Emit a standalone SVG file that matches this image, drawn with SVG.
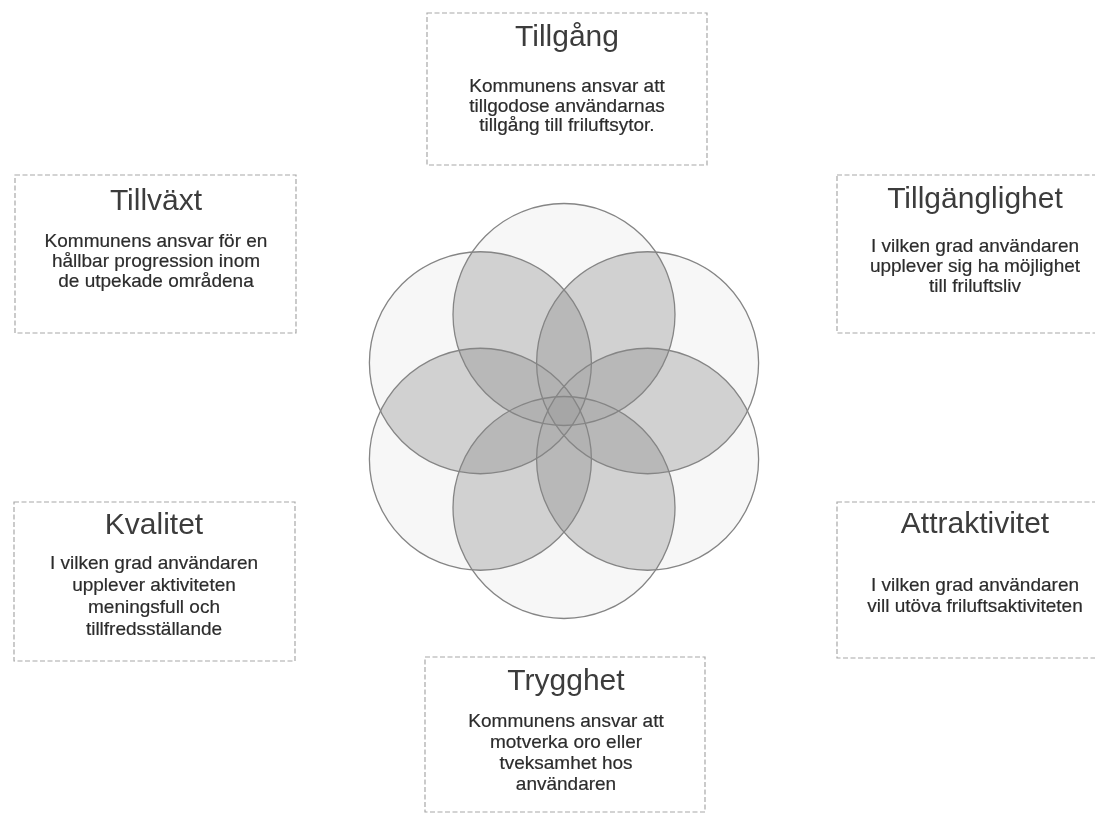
<svg xmlns="http://www.w3.org/2000/svg" xmlns:xlink="http://www.w3.org/1999/xlink" width="1095" height="813" viewBox="0 0 1095 813">
<style>
.box{fill:#ffffff;stroke:#a8a8a8;stroke-width:1.2;stroke-dasharray:5 2.5}
.title{font-family:"Liberation Sans",Arial,sans-serif;font-size:30px;fill:#3c3c3c;text-anchor:middle}
.body{font-family:"Liberation Sans",Arial,sans-serif;font-size:19px;fill:#2c2c2c;stroke:#2c2c2c;stroke-width:0.2;text-anchor:middle}
.ring{fill:none;stroke:#858585;stroke-width:1.3}
</style>
<defs>
<circle id="c0" cx="564" cy="314.5" r="111"/>
<circle id="c1" cx="647.6" cy="362.75" r="111"/>
<circle id="c2" cx="647.6" cy="459.25" r="111"/>
<circle id="c3" cx="564" cy="507.5" r="111"/>
<circle id="c4" cx="480.4" cy="459.25" r="111"/>
<circle id="c5" cx="480.4" cy="362.75" r="111"/>
<clipPath id="k0"><use xlink:href="#c0"/></clipPath>
<clipPath id="k1"><use xlink:href="#c1"/></clipPath>
<clipPath id="k2"><use xlink:href="#c2"/></clipPath>
<clipPath id="k3"><use xlink:href="#c3"/></clipPath>
<clipPath id="k4"><use xlink:href="#c4"/></clipPath>
</defs>
<rect x="0" y="0" width="1095" height="813" fill="#ffffff"/>

<g id="venn">
<g fill="#000" fill-opacity="0.03">
<use xlink:href="#c0"/><use xlink:href="#c1"/><use xlink:href="#c2"/>
<use xlink:href="#c3"/><use xlink:href="#c4"/><use xlink:href="#c5"/>
</g>
<g fill="#000" opacity="0.12">
<use xlink:href="#c1" clip-path="url(#k0)"/>
<use xlink:href="#c2" clip-path="url(#k0)"/>
<use xlink:href="#c3" clip-path="url(#k0)"/>
<use xlink:href="#c4" clip-path="url(#k0)"/>
<use xlink:href="#c5" clip-path="url(#k0)"/>
<use xlink:href="#c2" clip-path="url(#k1)"/>
<use xlink:href="#c3" clip-path="url(#k1)"/>
<use xlink:href="#c4" clip-path="url(#k1)"/>
<use xlink:href="#c5" clip-path="url(#k1)"/>
<use xlink:href="#c3" clip-path="url(#k2)"/>
<use xlink:href="#c4" clip-path="url(#k2)"/>
<use xlink:href="#c5" clip-path="url(#k2)"/>
<use xlink:href="#c4" clip-path="url(#k3)"/>
<use xlink:href="#c5" clip-path="url(#k3)"/>
<use xlink:href="#c5" clip-path="url(#k4)"/>
</g>
<g fill="#000" opacity="0.09">
<g clip-path="url(#k0)">
<use xlink:href="#c2" clip-path="url(#k1)"/>
<use xlink:href="#c3" clip-path="url(#k1)"/>
<use xlink:href="#c4" clip-path="url(#k1)"/>
<use xlink:href="#c5" clip-path="url(#k1)"/>
<use xlink:href="#c3" clip-path="url(#k2)"/>
<use xlink:href="#c4" clip-path="url(#k2)"/>
<use xlink:href="#c5" clip-path="url(#k2)"/>
<use xlink:href="#c4" clip-path="url(#k3)"/>
<use xlink:href="#c5" clip-path="url(#k3)"/>
<use xlink:href="#c5" clip-path="url(#k4)"/>
</g>
<g clip-path="url(#k1)">
<use xlink:href="#c3" clip-path="url(#k2)"/>
<use xlink:href="#c4" clip-path="url(#k2)"/>
<use xlink:href="#c5" clip-path="url(#k2)"/>
<use xlink:href="#c4" clip-path="url(#k3)"/>
<use xlink:href="#c5" clip-path="url(#k3)"/>
<use xlink:href="#c5" clip-path="url(#k4)"/>
</g>
<g clip-path="url(#k2)">
<use xlink:href="#c4" clip-path="url(#k3)"/>
<use xlink:href="#c5" clip-path="url(#k3)"/>
<use xlink:href="#c5" clip-path="url(#k4)"/>
</g>
<g clip-path="url(#k3)">
<use xlink:href="#c5" clip-path="url(#k4)"/>
</g>
</g>
<g class="ring">
<use xlink:href="#c0"/><use xlink:href="#c1"/><use xlink:href="#c2"/>
<use xlink:href="#c3"/><use xlink:href="#c4"/><use xlink:href="#c5"/>
</g>
</g>

<g id="tillgang">
<rect class="box" x="427" y="13" width="280" height="152"/>
<text class="title" x="567" y="46">Tillgång</text>
<text class="body" x="567" y="92">Kommunens ansvar att</text>
<text class="body" x="567" y="112">tillgodose användarnas</text>
<text class="body" x="567" y="131">tillgång till friluftsytor.</text>
</g>

<g id="tillvaxt">
<rect class="box" x="15" y="175" width="281" height="158"/>
<text class="title" x="156" y="210">Tillväxt</text>
<text class="body" x="156" y="247">Kommunens ansvar för en</text>
<text class="body" x="156" y="267">hållbar progression inom</text>
<text class="body" x="156" y="287">de utpekade områdena</text>
</g>

<g id="tillganglighet">
<rect class="box" x="837" y="175" width="280" height="158"/>
<text class="title" x="975" y="208">Tillgänglighet</text>
<text class="body" x="975" y="252">I vilken grad användaren</text>
<text class="body" x="975" y="272">upplever sig ha möjlighet</text>
<text class="body" x="975" y="292">till friluftsliv</text>
</g>

<g id="kvalitet">
<rect class="box" x="14" y="502" width="281" height="159"/>
<text class="title" x="154" y="534">Kvalitet</text>
<text class="body" x="154" y="569">I vilken grad användaren</text>
<text class="body" x="154" y="591">upplever aktiviteten</text>
<text class="body" x="154" y="613">meningsfull och</text>
<text class="body" x="154" y="635">tillfredsställande</text>
</g>

<g id="attraktivitet">
<rect class="box" x="837" y="502" width="280" height="156"/>
<text class="title" x="975" y="533">Attraktivitet</text>
<text class="body" x="975" y="591">I vilken grad användaren</text>
<text class="body" x="975" y="612">vill utöva friluftsaktiviteten</text>
</g>

<g id="trygghet">
<rect class="box" x="425" y="657" width="280" height="155"/>
<text class="title" x="566" y="690">Trygghet</text>
<text class="body" x="566" y="727">Kommunens ansvar att</text>
<text class="body" x="566" y="748">motverka oro eller</text>
<text class="body" x="566" y="769">tveksamhet hos</text>
<text class="body" x="566" y="790">användaren</text>
</g>
</svg>
